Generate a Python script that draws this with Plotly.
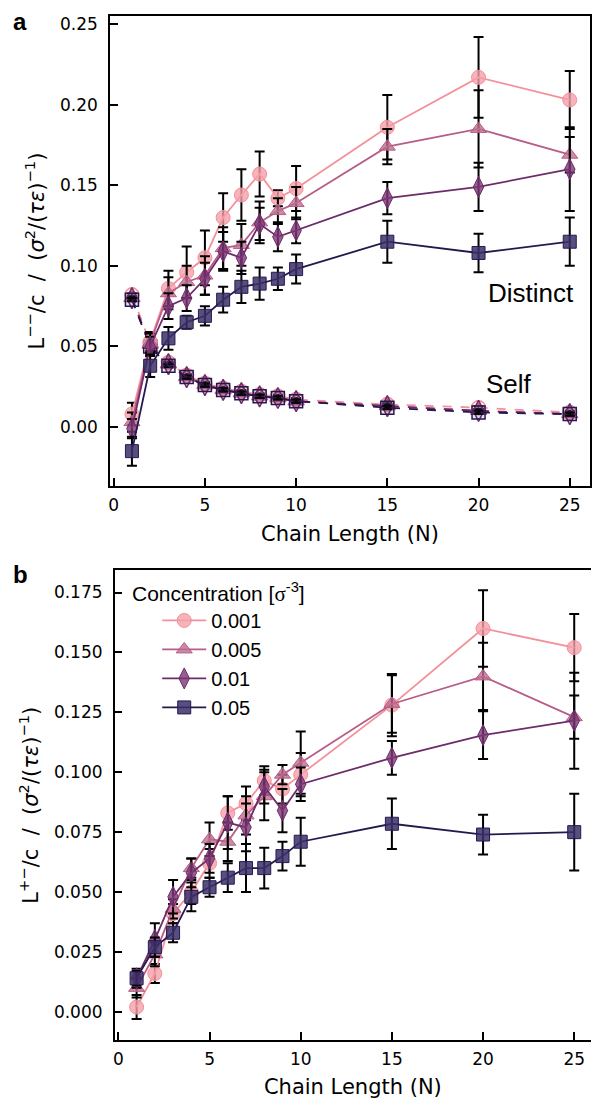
import plotly.graph_objects as go

W, H = 592, 1099

# ---------------- data ----------------
chain_length = [1, 2, 3, 4, 5, 6, 7, 8, 9, 10, 15, 20, 25]
concentrations = ["0.001", "0.005", "0.01", "0.05"]

# panel a: distinct (L--)
distinct_001 = [0.008, 0.053, 0.086, 0.096, 0.105, 0.130, 0.144, 0.157, 0.142, 0.148, 0.186, 0.217, 0.203]
distinct_005 = [0.003, 0.052, 0.083, 0.090, 0.094, 0.111, 0.113, 0.127, 0.134, 0.139, 0.174, 0.185, 0.169]
distinct_01 = [-0.001, 0.050, 0.075, 0.080, 0.092, 0.109, 0.105, 0.126, 0.118, 0.122, 0.142, 0.149, 0.160]
distinct_05 = [-0.015, 0.038, 0.055, 0.065, 0.069, 0.079, 0.087, 0.089, 0.092, 0.098, 0.115, 0.108, 0.115]
distinct_err_001 = [0.007, 0.006, 0.011, 0.016, 0.017, 0.015, 0.016, 0.014, 0.005, 0.014, 0.020, 0.025, 0.018]
distinct_err_005 = [0.006, 0.006, 0.010, 0.010, 0.012, 0.013, 0.013, 0.013, 0.008, 0.010, 0.011, 0.024, 0.011]
distinct_err_01 = [0.006, 0.006, 0.008, 0.008, 0.010, 0.012, 0.010, 0.010, 0.009, 0.008, 0.010, 0.015, 0.026]
distinct_err_05 = [0.009, 0.007, 0.007, 0.004, 0.006, 0.008, 0.010, 0.010, 0.007, 0.009, 0.013, 0.012, 0.015]

# panel a: self
self_001 = [0.082, 0.052, 0.040, 0.032, 0.027, 0.024, 0.022, 0.020, 0.019, 0.017, 0.014, 0.012, 0.009]
self_005 = [0.080, 0.051, 0.039, 0.031, 0.026, 0.023, 0.021, 0.019, 0.018, 0.016, 0.013, 0.010, 0.008]
self_01 = [0.080, 0.050, 0.039, 0.031, 0.026, 0.023, 0.021, 0.019, 0.018, 0.016, 0.013, 0.010, 0.008]
self_05 = [0.079, 0.050, 0.038, 0.031, 0.026, 0.023, 0.021, 0.019, 0.018, 0.016, 0.012, 0.009, 0.008]
self_err = [0.001, 0.001, 0.001, 0.001, 0.001, 0.001, 0.001, 0.001, 0.001, 0.001, 0.001, 0.001, 0.001]

# panel b: L+-
cross_001 = [0.002, 0.016, 0.041, 0.050, 0.062, 0.083, 0.087, 0.0965, 0.093, 0.099, 0.128, 0.160, 0.152]
cross_005 = [0.010, 0.024, 0.043, 0.060, 0.072, 0.071, 0.082, 0.090, 0.099, 0.104, 0.1285, 0.140, 0.123]
cross_01 = [0.014, 0.030, 0.048, 0.058, 0.064, 0.079, 0.077, 0.094, 0.084, 0.095, 0.106, 0.1155, 0.1215]
cross_05 = [0.014, 0.027, 0.033, 0.048, 0.052, 0.056, 0.060, 0.060, 0.065, 0.071, 0.0785, 0.074, 0.075]
cross_err_001 = [0.005, 0.004, 0.004, 0.005, 0.006, 0.007, 0.007, 0.006, 0.006, 0.009, 0.013, 0.016, 0.014]
cross_err_005 = [0.004, 0.005, 0.004, 0.004, 0.007, 0.008, 0.008, 0.010, 0.004, 0.013, 0.012, 0.014, 0.009]
cross_err_01 = [0.004, 0.007, 0.007, 0.006, 0.006, 0.011, 0.010, 0.007, 0.009, 0.007, 0.007, 0.010, 0.020]
cross_err_05 = [0.003, 0.004, 0.004, 0.006, 0.004, 0.006, 0.010, 0.0085, 0.006, 0.010, 0.0105, 0.0083, 0.016]

# ---------------- styles ----------------
line_colors = ["#f3909a", "#b85d87", "#6e2b6a", "#26184f"]
fill_colors = ["rgba(245,160,170,0.8)", "rgba(190,110,145,0.8)", "rgba(125,55,118,0.8)", "rgba(60,48,105,0.85)"]
self_fill = ["rgba(245,160,170,0.12)", "rgba(190,110,145,0.12)", "rgba(125,55,118,0.12)", "rgba(60,48,105,0.12)"]
symbols = ["circle", "triangle-up", "diamond-tall", "square"]
sizes = [14, 14, 15, 13]

distinct = [distinct_001, distinct_005, distinct_01, distinct_05]
distinct_err = [distinct_err_001, distinct_err_005, distinct_err_01, distinct_err_05]
selfs = [self_001, self_005, self_01, self_05]
cross = [cross_001, cross_005, cross_01, cross_05]
cross_err = [cross_err_001, cross_err_005, cross_err_01, cross_err_05]

fig = go.Figure()

def err(vals):
    return dict(type="data", array=vals, visible=True, color="black", thickness=2, width=5)

for i in range(4):
    fig.add_trace(go.Scatter(
        x=chain_length, y=selfs[i], mode="lines+markers", showlegend=False,
        line=dict(color=line_colors[i], width=1.8, dash="dash"),
        marker=dict(symbol=symbols[i], size=sizes[i], color=self_fill[i],
                    line=dict(color=line_colors[i], width=1.5)),
        error_y=err(self_err), xaxis="x", yaxis="y"))

for i in range(4):
    fig.add_trace(go.Scatter(
        x=chain_length, y=distinct[i], mode="lines+markers", showlegend=False,
        line=dict(color=line_colors[i], width=1.8),
        marker=dict(symbol=symbols[i], size=sizes[i], color=fill_colors[i],
                    line=dict(color=line_colors[i], width=1)),
        error_y=err(distinct_err[i]), xaxis="x", yaxis="y"))

for i in range(4):
    fig.add_trace(go.Scatter(
        x=chain_length, y=cross[i], mode="lines+markers", name=concentrations[i],
        legendgroup=concentrations[i],
        line=dict(color=line_colors[i], width=1.8),
        marker=dict(symbol=symbols[i], size=sizes[i], color=fill_colors[i],
                    line=dict(color=line_colors[i], width=1)),
        error_y=err(cross_err[i]), xaxis="x2", yaxis="y2"))

def px(x):
    return x / W

def py(y):
    return 1 - y / H

tick_font = dict(family="DejaVu Sans", size=17, color="black")
title_font = dict(family="DejaVu Sans", size=21, color="black")

axis_common = dict(showline=True, linecolor="black", linewidth=1.5, ticks="inside",
                   ticklen=8, tickwidth=1.5, tickcolor="black", showgrid=False,
                   zeroline=False, tickfont=tick_font)

ytitle_a = ("L<sup>\u2212\u2212</sup>/c\u00a0\u00a0/\u00a0\u00a0(<i>\u03c3</i><sup>2</sup>/(<i>\u03c4\u03b5</i>)<sup>\u22121</sup>)")
ytitle_b = ("L<sup>+\u2212</sup>/c\u00a0\u00a0/\u00a0\u00a0(<i>\u03c3</i><sup>2</sup>/(<i>\u03c4\u03b5</i>)<sup>\u22121</sup>)")

fig.update_layout(
    width=W, height=H,
    margin=dict(l=0, r=0, t=0, b=0),
    paper_bgcolor="white", plot_bgcolor="white",
    xaxis=dict(**axis_common, domain=[px(108.6), px(591)], range=[-0.2, 26.11],
               tickmode="linear", tick0=0, dtick=5, mirror=True, anchor="y",
               ticklabelstandoff=3,
               title=dict(text="Chain Length (N)", font=title_font, standoff=12)),
    yaxis=dict(**axis_common, domain=[py(485), py(14)], range=[-0.0367, 0.2551],
               tickmode="linear", tick0=0, dtick=0.05, tickformat=".2f", mirror=True,
               anchor="x", ticklabelstandoff=7,
               title=dict(text=ytitle_a, font=title_font, standoff=10)),
    xaxis2=dict(**axis_common, domain=[px(113.3), 1.0], range=[-0.2, 25.92],
                tickmode="linear", tick0=0, dtick=5, mirror=True, anchor="y2",
                ticklabelstandoff=3,
                title=dict(text="Chain Length (N)", font=title_font, standoff=12)),
    yaxis2=dict(**axis_common, domain=[py(1040), py(569.3)], range=[-0.0118, 0.1843],
                tickmode="linear", tick0=0, dtick=0.025, tickformat=".3f", mirror=False,
                anchor="x2", ticklabelstandoff=7,
                title=dict(text=ytitle_b, font=title_font, standoff=10)),
    legend=dict(x=px(156), y=py(600), xanchor="left", yanchor="top",
                bgcolor="rgba(0,0,0,0)", itemwidth=44, tracegroupgap=0,
                font=dict(family="Liberation Sans", size=20, color="black")),
    showlegend=True,
)

ann_font = dict(family="Liberation Sans", size=26, color="black")
fig.add_annotation(text="Distinct", x=px(531.5), y=py(292), xref="paper", yref="paper",
                   showarrow=False, font=ann_font, xanchor="center", yanchor="middle")
fig.add_annotation(text="Self", x=px(510), y=py(383), xref="paper", yref="paper",
                   showarrow=False, font=ann_font, xanchor="center", yanchor="middle")
fig.add_annotation(text="<b>a</b>", x=px(18), y=py(20), xref="paper", yref="paper",
                   showarrow=False, font=dict(family="Liberation Sans", size=24, color="black"),
                   xanchor="center", yanchor="middle")
fig.add_annotation(text="<b>b</b>", x=px(19), y=py(574), xref="paper", yref="paper",
                   showarrow=False, font=dict(family="Liberation Sans", size=24, color="black"),
                   xanchor="center", yanchor="middle")
fig.add_annotation(text="Concentration [<span style=\"font-family:'Liberation Serif'\">\u03c3</span><sup>-3</sup>]",
                   x=px(129), y=py(592), xref="paper", yref="paper", showarrow=False,
                   font=dict(family="Liberation Sans", size=21, color="black"),
                   xanchor="left", yanchor="middle")

fig.write_html("out.html", config={"displayModeBar": False},
               post_script="document.body.style.margin='0';document.body.style.padding='0';"
                           "document.documentElement.style.overflow='hidden';")
